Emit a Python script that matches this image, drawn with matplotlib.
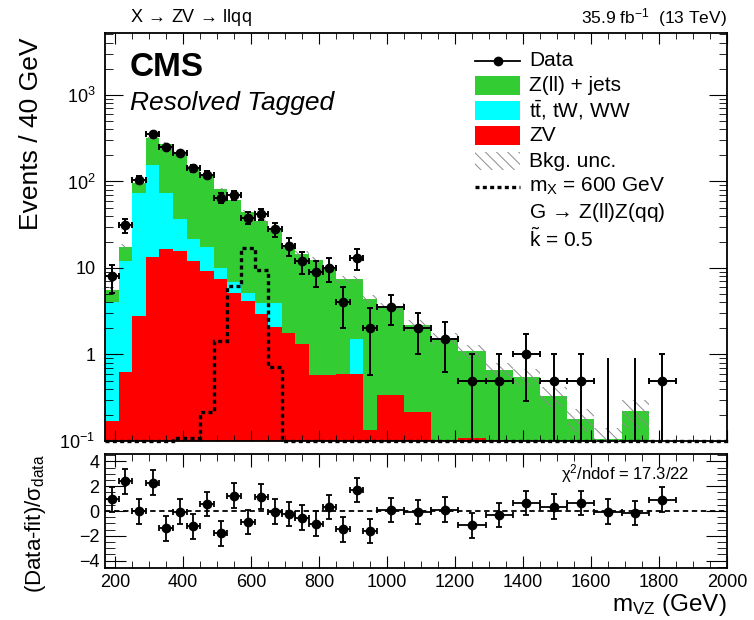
import numpy as np
import matplotlib
matplotlib.use("Agg")
import matplotlib.pyplot as plt
from matplotlib.patches import Rectangle
from matplotlib.lines import Line2D
from matplotlib.ticker import FixedLocator, FixedFormatter, MultipleLocator, NullFormatter

plt.rcParams['font.family'] = ['Liberation Sans', 'DejaVu Sans']
plt.rcParams['mathtext.fontset'] = 'custom'
plt.rcParams['mathtext.rm'] = 'Liberation Sans'
plt.rcParams['mathtext.it'] = 'Liberation Sans:italic'
plt.rcParams['mathtext.bf'] = 'Liberation Sans:bold'
plt.rcParams['hatch.linewidth'] = 0.7

# bin edges (GeV): 40 GeV up to 970, then 80 GeV
edges = np.array([170, 210, 250, 290, 330, 370, 410, 450, 490, 530, 570, 610, 650, 690,
                  730, 770, 810, 850, 890, 930, 970, 1050, 1130, 1210, 1290, 1370, 1450,
                  1530, 1610, 1690, 1770, 1850, 1930, 2010])

# backgrounds, events / 40 GeV
zv = np.array([0.17, 0.63, 2.8, 13.5, 16.5, 15.9, 11.9, 9.3, 7.4, 5.1, 4.2, 2.9, 2.1, 1.77,
               1.32, 0.58, 0.58, 0.6, 0.6, 0.134, 0.34, 0.216, 0.104, 0.108, 0.104,
               0, 0, 0, 0, 0, 0, 0, 0])
ttbar = np.array([3.83, 11.27, 70.2, 141.5, 56.5, 21.1, 9.7, 8.1, 2.5, 1.7, 0.9, 1.0, 1.8, 0,
                  0, 0, 0, 0, 0.9, 0, 0, 0, 0, 0, 0, 0, 0, 0, 0, 0, 0, 0, 0])
zjets = np.array([1.5, 5.8, 23, 163, 200, 177, 124.4, 98.6, 71.1, 54.2, 38.9, 31.1, 24.1, 16.7,
                  13.3, 11.8, 9.3, 6.8, 5.9, 4.27, 3.22, 1.97, 1.43, 0.98, 0.56, 0.556, 0.333,
                  0.181, 0.105, 0.22, 0, 0, 0])
bkg_unc = np.array([0.1, 0.06, 0.05, 0.04, 0.04, 0.04, 0.04, 0.05, 0.05, 0.05, 0.06, 0.06, 0.06,
                    0.07, 0.08, 0.08, 0.09, 0.1, 0.1, 0.11, 0.12, 0.14, 0.16, 0.18, 0.2, 0.22,
                    0.25, 0.3, 0.35, 0.35, 0, 0, 0])
# signal m_X = 600 GeV, events / 40 GeV
signal = np.array([0, 0, 0, 0, 0, 0.107, 0.107, 0.214, 1.45, 6.2, 16.8, 9.5, 0.72, 0, 0, 0, 0,
                   0, 0, 0, 0, 0, 0, 0, 0, 0, 0, 0, 0, 0, 0, 0, 0])
# data, raw counts per bin (first 31 bins)
data_counts = np.array([8, 31, 105, 357, 250, 212, 142, 120, 65, 70, 38, 42, 28, 18, 12, 9, 10,
                        4, 13, 2, 7, 4, 3, 1, 1, 2, 1, 1, 0, 0, 1])
pulls = np.array([0.94, 2.39, -0.03, 2.28, -1.39, -0.06, -1.25, 0.56, -1.8, 1.25, -0.89, 1.17,
                  -0.06, -0.25, -0.53, -1.03, 0.33, -1.47, 1.69, -1.61, 0.08, -0.08, 0.11,
                  -1.17, -0.33, 0.64, 0.36, 0.64, -0.06, -0.17, 0.92])

W, H = 754, 620
fig = plt.figure(figsize=(W / 100, H / 100), dpi=100)


def box(l, t, r, b):
    return [l / W, 1 - b / H, (r - l) / W, (b - t) / H]


ax = fig.add_axes(box(105, 33, 727, 441))
axr = fig.add_axes(box(105, 454, 727, 568))

base = 1e-3
tot = zv + ttbar + zjets
ax.stairs(np.maximum(tot, base), edges, baseline=base, fill=True, color='#33cc33', lw=0)
ax.stairs(np.maximum(zv + ttbar, base), edges, baseline=base, fill=True, color='#00ffff', lw=0)
ax.stairs(np.maximum(zv, base), edges, baseline=base, fill=True, color='#ff0000', lw=0)
ax.stairs(tot * (1 + bkg_unc), edges, baseline=tot * (1 - bkg_unc), fill=True,
          facecolor='none', edgecolor='#8c8c8c', hatch='\\\\\\', lw=0, zorder=3)
ax.stairs(np.maximum(signal, 0.1), edges, baseline=None, color='black', lw=2.4,
          ls=(0, (1.2, 1.0)), zorder=4, clip_on=False)

centers = 0.5 * (edges[:-1] + edges[1:])[:len(data_counts)]
half = 0.5 * np.diff(edges)[:len(data_counts)]
scale = 40.0 / (2 * half)
dval = data_counts * scale
derr = np.where(data_counts > 0, np.sqrt(data_counts), 1.8) * scale
lo_err = np.where(data_counts > 0, np.minimum(derr, dval - 1e-3), 0)
m = data_counts > 0
ax.errorbar(centers[m], dval[m], xerr=half[m], yerr=[lo_err[m], derr[m]], fmt='o', color='black',
            ms=6, elinewidth=1.4, capsize=2, capthick=1.4, zorder=5)
ax.errorbar(centers[~m], np.full((~m).sum(), 1e-3), yerr=[np.zeros((~m).sum()), derr[~m]],
            fmt='none', ecolor='black', elinewidth=1.4, capsize=0, zorder=5)

ax.set_yscale('log')
ax.set_xlim(170, 2000)
ax.set_ylim(0.1, 5200)
ax.yaxis.set_major_locator(FixedLocator([0.1, 1, 10, 100, 1000]))
ax.yaxis.set_major_formatter(FixedFormatter([r'$\mathregular{10^{-1}}$', '1', '10',
                                             r'$\mathregular{10^{2}}$', r'$\mathregular{10^{3}}$']))
minors = [k * 10.0 ** e for e in range(-1, 4) for k in range(2, 10)]
ax.yaxis.set_minor_locator(FixedLocator(minors))
ax.yaxis.set_minor_formatter(NullFormatter())
ax.xaxis.set_major_locator(MultipleLocator(200))
ax.xaxis.set_minor_locator(MultipleLocator(50))
ax.tick_params(axis='x', labelbottom=False)
ax.tick_params(axis='both', which='both', direction='in', top=True, right=True, labelsize=13)
ax.tick_params(axis='y', which='major', length=13, pad=7)
ax.tick_params(axis='y', which='minor', length=6)
ax.tick_params(axis='x', which='major', length=8)
ax.tick_params(axis='x', which='minor', length=4)

# pull panel
axr.axhline(0, color='black', ls=(0, (3, 2)), lw=1.3)
axr.errorbar(centers, pulls, xerr=half, yerr=1, fmt='o', color='black', ms=6,
             elinewidth=1.3, capsize=2, capthick=1.3)
axr.set_xlim(170, 2000)
axr.set_ylim(-4.6, 4.6)
axr.yaxis.set_major_locator(FixedLocator([-4, -2, 0, 2, 4]))
axr.yaxis.set_minor_locator(MultipleLocator(0.5))
axr.xaxis.set_major_locator(MultipleLocator(200))
axr.xaxis.set_minor_locator(MultipleLocator(50))
axr.tick_params(axis='both', which='both', direction='in', top=True, right=True, labelsize=13)
axr.tick_params(axis='y', which='major', length=15, pad=4)
axr.tick_params(axis='y', which='minor', length=7)
axr.tick_params(axis='x', which='major', length=9, pad=4)
axr.tick_params(axis='x', which='minor', length=5)
axr.text(0.94, 0.83, r'χ$^\mathregular{2}$/ndof = 17.3/22', transform=axr.transAxes,
         ha='right', va='center', fontsize=12)

for a in (ax, axr):
    for s in a.spines.values():
        s.set_linewidth(1.3)

fig.text(31 / W, 1 - 38 / H, 'Events / 40 GeV', rotation=90, ha='center', va='top', fontsize=19)
fig.text(36 / W, 1 - 524 / H, r'(Data-fit)/σ$_\mathregular{data}$', rotation=90,
         ha='center', va='center', fontsize=16)
fig.text(727 / W, 1 - 605 / H, r'm$_\mathregular{VZ}$ (GeV)', ha='right', va='center',
         fontsize=17.5)

fig.text(130 / W, 1 - 18 / H, r'X$\,\rightarrow\,$ZV$\,\rightarrow\,$llqq', ha='left',
         va='center', fontsize=13)
fig.text(727 / W, 1 - 18 / H, r'35.9 fb$^\mathregular{-1}$  (13 TeV)', ha='right', va='center',
         fontsize=12.5)
fig.text(130 / W, 1 - 68 / H, 'CMS', ha='left', va='center', fontsize=24, fontweight='bold')
fig.text(130 / W, 1 - 103 / H, 'Resolved Tagged', ha='left', va='center', fontsize=19,
         fontstyle='italic')


# legend, drawn in figure pixels
def fx(x):
    return x / W


def fy(y):
    return 1 - y / H


rows = [60.7, 85.5, 110.5, 135.5, 161, 186.5, 212, 239]
fig.add_artist(Line2D([fx(475), fx(520)], [fy(rows[0])] * 2, color='black', lw=1.3))
fig.add_artist(Line2D([fx(497.5)], [fy(rows[0])], marker='o', color='black', ms=6))
for r, c in zip(rows[1:4], ['#33cc33', '#00ffff', '#ff0000']):
    fig.add_artist(Rectangle((fx(475), fy(r + 9)), 45 / W, 18 / H, transform=fig.transFigure,
                             facecolor=c, edgecolor='none'))
fig.add_artist(Rectangle((fx(475), fy(rows[4] + 9)), 45 / W, 18 / H, transform=fig.transFigure,
                         facecolor='none', edgecolor='#8c8c8c', hatch='\\\\\\', lw=0))
fig.add_artist(Line2D([fx(475), fx(520)], [fy(rows[5])] * 2, color='black', lw=2.4,
                      ls=(0, (1.2, 1.0))))
labels = ['Data', 'Z(ll) + jets', r't$\mathregular{\bar{t}}$, tW, WW', 'ZV', 'Bkg. unc.',
          r'm$_\mathregular{X}$ = 600 GeV', r'G$\,\rightarrow\,$Z(ll)Z(qq)',
          r'$\mathregular{\tilde{k}}$ = 0.5']
for r, t in zip(rows, labels):
    fig.text(fx(529), fy(r), t, ha='left', va='center', fontsize=15)

fig.savefig('out.png', dpi=100)
